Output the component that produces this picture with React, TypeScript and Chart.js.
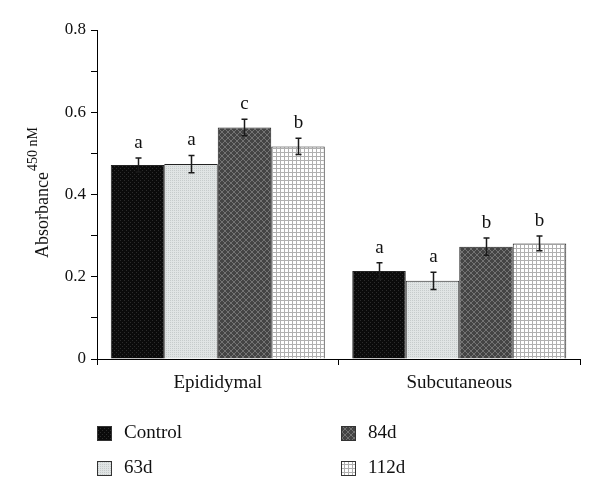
import React, { useEffect, useRef } from "react";
import { Chart, registerables } from "chart.js";

Chart.register(...registerables);

const categories = ["Epididymal", "Subcutaneous"];
const seriesNames = ["Control", "63d", "84d", "112d"];
const controlValues = [0.472, 0.214];
const d63Values = [0.474, 0.19];
const d84Values = [0.563, 0.273];
const d112Values = [0.517, 0.281];
const controlErrors = [0.017, 0.02];
const d63Errors = [0.021, 0.021];
const d84Errors = [0.02, 0.021];
const d112Errors = [0.02, 0.018];
const controlLetters = ["a", "a"];
const d63Letters = ["a", "a"];
const d84Letters = ["c", "b"];
const d112Letters = ["b", "b"];
const yTickLabels = ["0", "0.2", "0.4", "0.6", "0.8"];

const FONT = "'Liberation Serif', 'Times New Roman', serif";

function makePattern(kind: string): CanvasPattern | string {
  const c = document.createElement("canvas");
  const ctx = c.getContext("2d")!;
  if (kind === "control") {
    c.width = 4; c.height = 4;
    ctx.fillStyle = "#0b0b0b"; ctx.fillRect(0, 0, 4, 4);
    ctx.fillStyle = "#2c2c2c"; ctx.fillRect(0, 0, 1, 1); ctx.fillRect(2, 2, 1, 1);
  } else if (kind === "63d") {
    c.width = 2; c.height = 2;
    ctx.fillStyle = "#e0e4e4"; ctx.fillRect(0, 0, 2, 2);
    ctx.fillStyle = "#c6cbcb"; ctx.fillRect(0, 0, 1, 1);
  } else if (kind === "84d") {
    c.width = 6; c.height = 6;
    ctx.fillStyle = "#444444"; ctx.fillRect(0, 0, 6, 6);
    ctx.fillStyle = "#737373";
    for (let i = 0; i < 6; i++) { ctx.fillRect(i, i, 1, 1); ctx.fillRect(i, 5 - i, 1, 1); }
  } else {
    c.width = 4; c.height = 4;
    ctx.fillStyle = "#ffffff"; ctx.fillRect(0, 0, 4, 4);
    ctx.fillStyle = "#b0b0b0"; ctx.fillRect(0, 0, 4, 1); ctx.fillRect(0, 0, 1, 4);
  }
  return ctx.createPattern(c, "repeat") || "#888";
}

export default function App() {
  const ref = useRef<HTMLCanvasElement>(null);
  useEffect(() => {
    document.body.style.margin = "0";
    const values = [controlValues, d63Values, d84Values, d112Values];
    const errors = [controlErrors, d63Errors, d84Errors, d112Errors];
    const letters = [controlLetters, d63Letters, d84Letters, d112Letters];
    const patterns = [makePattern("control"), makePattern("63d"), makePattern("84d"), makePattern("112d")];

    const extras = {
      id: "extras",
      afterDatasetsDraw(chart: any) {
        const ctx = chart.ctx;
        const ys = chart.scales.y;
        ctx.save();
        values.forEach((vals, i) => {
          const meta = chart.getDatasetMeta(i);
          meta.data.forEach((bar: any, j: number) => {
            const x = Math.round(bar.x) + 0.5;
            const top = ys.getPixelForValue(vals[j] + errors[i][j]);
            const bot = ys.getPixelForValue(vals[j] - errors[i][j]);
            ctx.strokeStyle = "#1a1a1a";
            ctx.lineWidth = 1.5;
            ctx.beginPath();
            ctx.moveTo(x, top); ctx.lineTo(x, bot);
            ctx.moveTo(x - 3, top); ctx.lineTo(x + 3, top);
            ctx.moveTo(x - 3, bot); ctx.lineTo(x + 3, bot);
            ctx.stroke();
            ctx.fillStyle = "#111";
            ctx.font = `19px ${FONT}`;
            ctx.textAlign = "center";
            ctx.textBaseline = "alphabetic";
            ctx.fillText(letters[i][j], x, top - 10);
          });
        });
        ctx.restore();
      },
      afterDraw(chart: any) {
        const ctx = chart.ctx;
        const area = chart.chartArea;
        ctx.save();
        ctx.font = `18px ${FONT}`;
        const w1 = ctx.measureText("Absorbance").width;
        ctx.font = `14px ${FONT}`;
        const w2 = ctx.measureText("450 nM").width;
        const total = w1 + 1 + w2;
        const cy = (area.top + area.bottom) / 2 - 2;
        ctx.translate(48, cy + total / 2);
        ctx.rotate(-Math.PI / 2);
        ctx.fillStyle = "#111";
        ctx.textAlign = "left";
        ctx.textBaseline = "alphabetic";
        ctx.font = `18px ${FONT}`;
        ctx.fillText("Absorbance", 0, 0);
        ctx.font = `14px ${FONT}`;
        ctx.fillText("450 nM", w1 + 1, -11);
        ctx.restore();

        ctx.save();
        const pos = [
          { x: 97, y: 426 },
          { x: 97, y: 461 },
          { x: 341, y: 426 },
          { x: 341, y: 461 },
        ];
        seriesNames.forEach((name, i) => {
          const p = pos[i];
          ctx.fillStyle = patterns[i] as any;
          ctx.fillRect(p.x, p.y, 15, 15);
          ctx.strokeStyle = "#333";
          ctx.lineWidth = 1;
          ctx.strokeRect(p.x + 0.5, p.y + 0.5, 14, 14);
          ctx.fillStyle = "#111";
          ctx.font = `19px ${FONT}`;
          ctx.textAlign = "left";
          ctx.textBaseline = "middle";
          ctx.fillText(name, p.x + 27, p.y + 7.5);
        });
        ctx.restore();
      },
    };

    const chart = new Chart(ref.current!, {
      type: "bar",
      data: {
        labels: categories,
        datasets: seriesNames.map((name, i) => ({
          label: name,
          data: values[i],
          backgroundColor: patterns[i] as any,
          borderColor: "#222",
          borderWidth: 1,
          categoryPercentage: 0.886,
          barPercentage: 1,
        })),
      },
      options: {
        responsive: false,
        animation: false,
        devicePixelRatio: 1,
        layout: { padding: { top: 30, right: 20, bottom: 103, left: 0 } },
        plugins: { legend: { display: false }, tooltip: { enabled: false } },
        scales: {
          x: {
            grid: { display: true, drawOnChartArea: false, tickLength: 6, color: "#000", offset: true },
            border: { color: "#000", width: 1 },
            ticks: { font: { family: FONT, size: 19 }, color: "#111", padding: 7 },
            afterFit: (s: any) => { s.height = 40; },
          },
          y: {
            min: 0,
            max: 0.8,
            grid: { display: true, drawOnChartArea: false, tickLength: 6, color: "#000" },
            border: { color: "#000", width: 1 },
            ticks: {
              stepSize: 0.1,
              font: { family: FONT, size: 17 },
              color: "#111",
              padding: 5,
              callback: (v: any) => {
                const k = Math.round(Number(v) * 10);
                return k % 2 === 0 ? yTickLabels[k / 2] : "";
              },
            },
            afterFit: (s: any) => { s.width = 97; },
          },
        },
      },
      plugins: [extras],
    });
    return () => chart.destroy();
  }, []);
  return <canvas ref={ref} width={600} height={502} style={{ display: "block" }} />;
}
